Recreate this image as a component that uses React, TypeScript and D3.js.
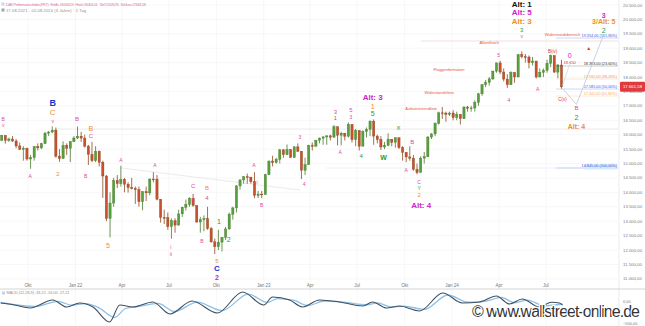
import React from 'react';
import * as d3 from 'd3';

// ---------- DATA ----------
// weekly DAX candles, week ending Friday, first week ending 2021-08-13
const firstWeekEnd = '2021-08-13';
const firstOpen = 15800;
const closes = [
  // 2021
  15977, 15808, 15852, 15781, 15610, 15491, 15532, 15156, 15207, 15587, 15543, 15688, 16054, 16094, 16160, 15257, 15170, 15623, 15531, 15756, 15885,
  // 2022
  15948, 15883, 15603, 15318, 15100, 15425, 15042, 14567, 13094, 13628, 14413, 14305, 14446, 14283, 14164, 14142, 14098,
  13674, 14028, 13982, 14462, 14460, 13762, 13126, 13118, 12813, 13015, 12864, 13254, 13484, 13574, 13795, 13544, 12971,
  13050, 13088, 12741, 12284, 12114, 12273, 12438, 12731, 13243, 13460, 14224, 14431, 14541, 14529, 14370, 13894, 13940, 13924,
  // 2023
  14610, 15087, 15033, 15150, 15476, 15307, 15482, 15210, 15578, 15428, 14768, 14957, 15629, 15598, 15808, 15882, 15922,
  15961, 15914, 16275, 15983, 16051, 15949, 16358, 15830, 16148, 15603, 16105, 16186, 16470, 15952, 15832, 15574, 15632,
  15840, 15740, 15893, 15557, 15387, 15229, 15187, 14798, 14688, 15189, 15234, 15919, 16029, 16398, 16759, 16751, 16706, 16752,
  // 2024
  16594, 16705, 16555, 16961, 16918, 16927, 17117, 17419, 17735, 17815, 17937, 18206, 18492, 18175, 17930, 17737, 18161,
  18001, 18773, 18704, 18694, 18498, 18557, 18002, 18164, 18235, 18475, 18748, 18172, 18418, 17661,
];
const highs = [
  15980, 15950, 15900, 15950, 15850, 15730, 15600, 15550, 15300, 15600, 15700, 15720, 16100, 16130, 16290, 16250, 15500, 15770, 15700, 15780, 15950,
  16285, 16100, 16000, 15650, 15750, 15600, 15450, 15100, 14600, 14000, 14500, 14600, 14925, 14500, 14350, 14500, 14200,
  14200, 14030, 14200, 14480, 14700, 14600, 13700, 13400, 13300, 13100, 13100, 13400, 13500, 13750, 13830, 13950, 13450,
  13150, 13200, 13500, 12800, 12400, 12700, 12450, 12800, 13300, 13500, 14250, 14450, 14560, 14650, 14500, 14700, 14050, 14050,
  14650, 15100, 15270, 15200, 15500, 15500, 15660, 15500, 15600, 15700, 15400, 15200, 15650, 15730, 15820, 15900, 15950,
  15970, 16000, 16330, 16250, 16100, 16050, 16430, 16300, 16200, 16100, 16150, 16250, 16500, 16530, 16000, 15950, 15750,
  16050, 15850, 15900, 15900, 15600, 15400, 15600, 15300, 15000, 15250, 15400, 15950, 16050, 16430, 16800, 16960, 16800, 16800,
  16850, 16800, 16650, 16980, 17000, 17000, 17200, 17450, 17750, 17900, 18000, 18220, 18500, 18567, 18300, 18100, 18200,
  18150, 18800, 18892, 18800, 18750, 18700, 18500, 18300, 18300, 18600, 18780, 18700, 18450, 18600,
];
const lows = [
  15800, 15690, 15750, 15750, 15530, 15480, 15100, 15100, 14819, 15100, 15450, 15500, 15700, 15950, 16050, 15200, 15060, 15200, 15300, 15050, 15750,
  15850, 15750, 15550, 14950, 15050, 15050, 14900, 13807, 13000, 12439, 13500, 14150, 14200, 14000, 13990, 14100, 13600,
  13500, 13380, 13700, 13900, 14350, 13720, 12950, 12900, 12700, 12390, 12600, 12850, 13150, 13370, 13500, 13500, 12950,
  12600, 12650, 12700, 12250, 11862, 12000, 11950, 12350, 12700, 13050, 13300, 14100, 14300, 14300, 14300, 13800, 13800, 13800,
  14050, 14600, 14900, 15000, 15000, 15200, 15300, 15200, 15200, 15400, 14460, 14600, 15000, 15450, 15600, 15700, 15650,
  15650, 15800, 15900, 15630, 15630, 15800, 15900, 15730, 15600, 15450, 15600, 15900, 15950, 15650, 15700, 15470, 15500,
  15600, 15600, 15550, 15500, 15100, 15050, 15100, 14750, 14630, 14700, 15000, 15250, 15850, 15950, 16350, 16550, 16450, 16650,
  16500, 16500, 16350, 16550, 16800, 16800, 16800, 17000, 17350, 17650, 17700, 17900, 18150, 18100, 17850, 17626, 17800,
  17800, 18050, 18650, 18500, 18300, 18400, 17950, 18000, 18000, 18150, 18350, 18150, 17960, 17600,
];

const priceTicks = d3.range(11000, 20501, 500);
const lastPrice = 17661.58;

// MACD indicator
const macdDates = ['2021-08-09', '2021-09-05', '2021-10-05', '2021-11-18', '2021-12-15', '2022-01-09', '2022-02-04', '2022-03-08',
  '2022-03-28', '2022-04-22', '2022-05-31', '2022-07-03', '2022-08-15', '2022-10-03', '2022-11-21', '2023-01-01', '2023-01-18',
  '2023-02-20', '2023-03-17', '2023-04-19', '2023-05-28', '2023-07-12', '2023-07-31', '2023-08-27', '2023-09-21', '2023-10-30',
  '2023-12-14', '2024-01-21', '2024-02-23', '2024-03-27', '2024-04-21', '2024-05-16', '2024-06-18', '2024-07-12', '2024-07-27', '2024-08-02'];
const macdValues = [33, -33, -133, 133, -100, 33, -100, -600, -33, -100, 67, -333, 100, -300, 400, -33, 233,
  133, -100, 133, 67, -67, 67, -133, -67, -233, 367, 33, 67, 267, 0, 167, -100, 60, 33, -33];
const signalDates = ['2021-08-09', '2021-10-15', '2021-11-28', '2021-12-25', '2022-01-20', '2022-02-15', '2022-03-18', '2022-04-08',
  '2022-05-05', '2022-06-10', '2022-07-12', '2022-08-25', '2022-10-12', '2022-12-02', '2023-01-08', '2023-01-28', '2023-03-01',
  '2023-03-27', '2023-04-29', '2023-06-05', '2023-07-20', '2023-08-09', '2023-09-05', '2023-09-30', '2023-11-08', '2023-12-24',
  '2024-02-01', '2024-03-05', '2024-04-06', '2024-05-01', '2024-05-26', '2024-06-27', '2024-08-02'];
const signalValues = [50, -80, 90, -40, 10, -120, -450, -150, -80, 20, -250, 60, -220, 330, 50, 180, 120,
  -50, 100, 60, -30, 40, -100, -70, -180, 300, 60, 90, 220, 40, 130, -60, 0];

// Elliott wave labels
const PINK = '#e2489c', ORANGE = '#f0901e', GREEN = '#2c9a2c', BLUE = '#1b2fcf', MAGENTA = '#cc1ecc', BLACK = '#111111', RED = '#e0342a';
type Lbl = { date: string; price: number; text: string; color: string; size: number; bold?: boolean };
const waveLabels: Lbl[] = [
  { date: '2021-08-14', price: 16544, text: 'B', color: PINK, size: 5 },
  { date: '2021-08-14', price: 16336, text: 'v', color: PINK, size: 5 },
  { date: '2021-11-18', price: 17100, text: 'B', color: BLUE, size: 9, bold: true },
  { date: '2021-11-18', price: 16787, text: 'C', color: ORANGE, size: 8 },
  { date: '2021-11-18', price: 16475, text: 'v', color: PINK, size: 5 },
  { date: '2022-01-04', price: 16544, text: 'B', color: PINK, size: 6 },
  { date: '2022-01-31', price: 16232, text: 'B', color: ORANGE, size: 7 },
  { date: '2022-01-31', price: 15954, text: 'C', color: PINK, size: 6 },
  { date: '2021-10-05', price: 14567, text: 'A', color: PINK, size: 5 },
  { date: '2021-11-28', price: 14637, text: '2', color: ORANGE, size: 6 },
  { date: '2022-01-21', price: 14567, text: 'B', color: PINK, size: 5 },
  { date: '2022-03-05', price: 12173, text: '5', color: ORANGE, size: 7 },
  { date: '2022-03-30', price: 15122, text: 'A', color: PINK, size: 5 },
  { date: '2022-06-04', price: 14949, text: 'A', color: PINK, size: 5 },
  { date: '2022-07-05', price: 12104, text: 'i', color: PINK, size: 5 },
  { date: '2022-07-05', price: 11861, text: 'ii', color: PINK, size: 5 },
  { date: '2022-08-17', price: 14220, text: 'C', color: PINK, size: 6 },
  { date: '2022-08-17', price: 13735, text: 'B', color: PINK, size: 5 },
  { date: '2022-09-13', price: 14151, text: 'B', color: ORANGE, size: 6 },
  { date: '2022-09-13', price: 13804, text: '4', color: PINK, size: 6 },
  { date: '2022-09-03', price: 12312, text: 'B', color: PINK, size: 5 },
  { date: '2022-10-06', price: 13006, text: '1', color: GREEN, size: 7 },
  { date: '2022-10-25', price: 12347, text: '2', color: GREEN, size: 7 },
  { date: '2022-10-02', price: 11630, text: '5', color: ORANGE, size: 6 },
  { date: '2022-10-02', price: 11360, text: 'C', color: BLUE, size: 8, bold: true },
  { date: '2022-10-02', price: 11060, text: '2', color: MAGENTA, size: 7, bold: true },
  { date: '2022-12-13', price: 14949, text: 'A', color: PINK, size: 5 },
  { date: '2022-12-19', price: 14359, text: 'i', color: PINK, size: 5 },
  { date: '2022-12-28', price: 13561, text: 'B', color: PINK, size: 5 },
  { date: '2023-03-12', price: 15920, text: '3', color: PINK, size: 5 },
  { date: '2023-03-20', price: 14290, text: '4', color: PINK, size: 5 },
  { date: '2023-05-20', price: 16787, text: '3', color: PINK, size: 6 },
  { date: '2023-05-20', price: 16580, text: '1', color: RED, size: 5 },
  { date: '2023-05-29', price: 15400, text: 'A', color: PINK, size: 5 },
  { date: '2023-06-19', price: 16850, text: '5', color: PINK, size: 6 },
  { date: '2023-06-19', price: 16614, text: '3', color: PINK, size: 5 },
  { date: '2023-07-09', price: 15261, text: '4', color: GREEN, size: 6 },
  { date: '2023-07-31', price: 17308, text: 'Alt: 3', color: MAGENTA, size: 8, bold: true },
  { date: '2023-07-31', price: 16995, text: '1', color: ORANGE, size: 7 },
  { date: '2023-07-31', price: 16753, text: '5', color: GREEN, size: 7 },
  { date: '2023-08-21', price: 15192, text: 'W', color: GREEN, size: 7, bold: true },
  { date: '2023-09-19', price: 16232, text: 'X', color: GREEN, size: 6 },
  { date: '2023-10-16', price: 15747, text: 'B', color: PINK, size: 6 },
  { date: '2023-10-04', price: 14775, text: 'A', color: PINK, size: 5 },
  { date: '2023-10-29', price: 14359, text: 'C', color: PINK, size: 5 },
  { date: '2023-10-29', price: 14151, text: 'Y', color: GREEN, size: 5 },
  { date: '2023-10-29', price: 13908, text: '2', color: ORANGE, size: 6 },
  { date: '2023-11-02', price: 13561, text: 'Alt: 4', color: MAGENTA, size: 8, bold: true },
  { date: '2024-05-15', price: 20534, text: 'Alt: 1', color: BLACK, size: 8, bold: true },
  { date: '2024-05-15', price: 20256, text: 'Alt: 5', color: MAGENTA, size: 8, bold: true },
  { date: '2024-05-15', price: 19944, text: 'Alt: 3', color: ORANGE, size: 8, bold: true },
  { date: '2024-05-15', price: 19632, text: '3', color: GREEN, size: 6 },
  { date: '2024-05-15', price: 19424, text: 'v', color: PINK, size: 5 },
  { date: '2024-03-31', price: 18765, text: '5', color: PINK, size: 5 },
  { date: '2024-04-20', price: 17204, text: '4', color: PINK, size: 5 },
  { date: '2024-06-15', price: 17585, text: 'A', color: PINK, size: 5 },
  { date: '2024-07-14', price: 18903, text: 'B(iv)', color: RED, size: 4.5 },
  { date: '2024-08-02', price: 17238, text: 'C(v)', color: RED, size: 4.5 },
  { date: '2024-08-16', price: 18765, text: '0', color: MAGENTA, size: 7 },
  { date: '2024-08-16', price: 18522, text: '18.650', color: RED, size: 4 },
  { date: '2024-08-29', price: 16926, text: 'B', color: PINK, size: 6 },
  { date: '2024-08-29', price: 16614, text: '2', color: GREEN, size: 7 },
  { date: '2024-08-29', price: 16302, text: 'Alt: 4', color: ORANGE, size: 7, bold: true },
  { date: '2024-10-21', price: 20152, text: '3', color: MAGENTA, size: 7, bold: true },
  { date: '2024-10-21', price: 19944, text: '3/Alt: 5', color: ORANGE, size: 7, bold: true },
  { date: '2024-10-21', price: 19632, text: '2', color: GREEN, size: 7 },
  { date: '2024-09-22', price: 19007, text: '▲', color: RED, size: 5 },
];

const noteDates = ['2024-08-02', '2024-03-13', '2023-12-26', '2023-12-07', '2023-11-02'];
const notePrices = [19493, 19215, 18279, 17481, 16926];
const noteTexts = ['Widerstandsbereich', 'Allzeithoch', 'Flaggenformation', 'Widerstandslinie', 'Aufwärtstrendlinie'];

const fibPrices = [19354, 18383, 17932, 17585, 17342, 14845];
const fibPercents = ['161,80%', '23,60%', '38,20%', '50,00%', '61,80%', '100,00%'];
const fibColors = ['#3a5be0', '#333333', '#f0a040', '#3a5be0', '#f5b060', '#3a5be0'];

const projDates = ['2024-08-02', '2024-08-29', '2024-10-21'];
const projPrices = [17600, 17050, 19480];

// ---------- CHART ----------
export default function App() {
  const parse = d3.timeParse('%Y-%m-%d');
  const P = (s: string) => parse(s) as Date;
  const x = d3.scaleTime().domain([P('2021-10-01'), P('2024-07-01')]).range([28, 546]);
  const y = d3.scaleLinear().domain([12000, 20500]).range([250, 5]);
  const my = d3.scaleLinear().domain([-500, 0]).range([319, 304]);
  const de = d3.formatLocale({ decimal: ',', thousands: '.', grouping: [3], currency: ['', '€'] });
  const fmt = de.format(',.2f');

  const plotRight = 618;
  const panelTop = 289;
  const start = P(firstWeekEnd);
  const candles = closes.map((c, i) => {
    const d = d3.timeDay.offset(start, 7 * i - 2);
    const o = i === 0 ? firstOpen : closes[i - 1];
    return { d, o, c, h: Math.max(highs[i], o, c), l: Math.min(lows[i], o, c) };
  });
  const step = x(d3.timeDay.offset(start, 7)) - x(start);
  const bw = step * 0.62;

  const ticks = x.ticks(d3.timeMonth.every(3) as any).filter((t) => t >= P('2021-10-01'));
  const tickFmt = (t: Date) => {
    const m = t.getMonth();
    const names = ['Jan', 'Feb', 'Mär', 'Apr', 'Mai', 'Jun', 'Jul', 'Aug', 'Sep', 'Okt', 'Nov', 'Dez'];
    return m === 0 ? `Jan ${String(t.getFullYear()).slice(2)}` : names[m];
  };

  const macdLine = d3.line<[Date, number]>().x((d) => x(d[0])).y((d) => my(d[1])).curve(d3.curveMonotoneX);
  const macdPts = macdDates.map((d, i) => [P(d), macdValues[i]] as [Date, number]);
  const sigPts = signalDates.map((d, i) => [P(d), signalValues[i]] as [Date, number]);

  const projLine = d3.line<[Date, number]>().x((d) => x(d[0])).y((d) => y(d[1]));
  const projPts = projDates.map((d, i) => [P(d), projPrices[i]] as [Date, number]);

  const font = 'Liberation Sans, Arial, Helvetica, sans-serif';

  return (
    <svg width={645} height={326} style={{ position: 'absolute', left: 0, top: 0, background: '#fff' }} fontFamily={font}>
      <defs>
        <clipPath id="plot"><rect x={0} y={0} width={plotRight} height={panelTop} /></clipPath>
        <clipPath id="ind"><rect x={0} y={panelTop} width={plotRight} height={326 - panelTop} /></clipPath>
      </defs>
      <rect x={0} y={0} width={645} height={326} fill="#fff" />

      {/* grid */}
      {priceTicks.map((p) => (
        <line key={'g' + p} x1={0} x2={plotRight} y1={y(p)} y2={y(p)} stroke="#f4f4f4" strokeWidth={0.6} />
      ))}
      {ticks.map((t, i) => (
        <line key={'v' + i} x1={x(t)} x2={x(t)} y1={0} y2={326} stroke="#f1f1f1" strokeWidth={0.6} />
      ))}

      {/* header */}
      <rect x={1.5} y={2.5} width={3} height={3} fill="#c8d8f0" />
      <text x={6} y={5.6} fontSize={4} fill="#e07aa8" textLength={140}>DAX Performance-Index (PKT) · Eröffn. 18.343,13 · Hoch 18.401,01 · Tief 17.626,76 · Schluss 17.661,58</text>
      <rect x={1.5} y={8.5} width={3} height={3} fill="#9aa5b5" />
      <text x={6} y={11.6} fontSize={4} fill="#8a8a8a" textLength={80}>17.08.2021 - 02.08.2024 (3 Jahre) · 1 Tag</text>

      <g clipPath="url(#plot)">
        {/* long lines */}
        <line x1={x(P('2021-11-25'))} x2={plotRight} y1={y(16197)} y2={y(16197)} stroke="#e4e4e4" strokeWidth={0.8} />
        <line x1={x(P('2023-11-01'))} x2={plotRight} y1={y(19250)} y2={y(19250)} stroke="#ead6de" strokeWidth={0.8} />
        <line x1={x(P('2023-05-01'))} x2={plotRight} y1={y(14845)} y2={y(14845)} stroke="#e8eef8" strokeWidth={0.8} />
        <line x1={x(P('2022-03-29'))} x2={x(P('2023-03-12'))} y1={y(14850)} y2={y(14080)} stroke="#e6e6e6" strokeWidth={0.8} />

        {/* candles */}
        {candles.map((k, i) => {
          const up = k.c >= k.o;
          const cx = x(k.d);
          const top = y(Math.max(k.o, k.c));
          const bot = y(Math.min(k.o, k.c));
          return (
            <g key={i}>
              <line x1={cx} x2={cx} y1={y(k.h)} y2={y(k.l)} stroke={up ? '#4a7a2c' : '#8d4a22'} strokeWidth={0.8} />
              <rect x={cx - bw / 2} y={top} width={bw} height={Math.max(0.8, bot - top)} fill={up ? '#56a03e' : '#c9502c'} stroke={up ? '#4a7a2c' : '#8d4a22'} strokeWidth={0.4} />
            </g>
          );
        })}

        {/* fib levels on the right */}
        {fibPrices.map((p, i) => (
          <g key={'f' + i}>
            <line x1={x(P('2024-07-20'))} x2={plotRight} y1={y(p)} y2={y(p)} stroke={fibColors[i]} strokeOpacity={0.35} strokeWidth={0.7} />
            {i === 5 && <rect x={584} y={y(p) - 3.5} width={33} height={5} fill="#d6e8fb" />}
            <text x={617} y={y(p) - 1} fontSize={3.8} textAnchor="end" fill={fibColors[i]}>
              {`${fmt(p)} (${fibPercents[i]})`}
            </text>
          </g>
        ))}

        {/* projection */}
        <path d={projLine(projPts) || ''} fill="none" stroke="#b9c9dc" strokeWidth={0.8} />
        <line x1={x(P('2024-08-16'))} x2={x(P('2024-08-02'))} y1={y(18450)} y2={y(17700)} stroke="#c9d6e6" strokeWidth={0.7} />

        {/* notes */}
        {noteTexts.map((t, i) => (
          <text key={'n' + i} x={x(P(noteDates[i]))} y={y(notePrices[i])} fontSize={4} fill="#e8553a" textAnchor="middle" dominantBaseline="central">{t}</text>
        ))}

        {/* wave labels */}
        {waveLabels.map((l, i) => (
          <text key={'w' + i} x={x(P(l.date))} y={y(l.price)} fontSize={l.size} fontWeight={l.bold ? 'bold' : 'normal'} fill={l.color} textAnchor="middle" dominantBaseline="central">{l.text}</text>
        ))}
      </g>

      {/* right axis */}
      <line x1={plotRight + 1} x2={plotRight + 1} y1={0} y2={326} stroke="#e6e6e6" strokeWidth={0.8} />
      {priceTicks.map((p) => (
        <text key={'t' + p} x={623} y={y(p)} fontSize={4.3} fill="#7a7a7a" dominantBaseline="central">{fmt(p)}</text>
      ))}
      <rect x={620} y={y(lastPrice) - 5} width={25} height={10} fill="#e03a3a" rx={1} />
      <text x={632.5} y={y(lastPrice)} fontSize={4.3} fill="#fff" textAnchor="middle" dominantBaseline="central">{fmt(lastPrice)}</text>

      {/* x-axis */}
      {ticks.map((t, i) => (
        <text key={'xl' + i} x={x(t)} y={285} fontSize={4.5} fill="#777" textAnchor="middle" dominantBaseline="central">{tickFmt(t)}</text>
      ))}

      {/* indicator panel */}
      <line x1={0} x2={645} y1={panelTop} y2={panelTop} stroke="#d4d4d4" strokeWidth={1} />
      <rect x={2} y={291.5} width={3} height={3} fill="#bcd6ee" />
      <text x={6.5} y={294.3} fontSize={3.8} fill="#8a8a8a">MACD (12,26,9)  -33,21  -16,00  -17,21</text>
      <g clipPath="url(#ind)">
        <path d={macdLine(sigPts) || ''} fill="none" stroke="#8cc0e8" strokeWidth={1.3} />
        <path d={macdLine(macdPts) || ''} fill="none" stroke="#405060" strokeWidth={1.1} />
      </g>
      <text x={623} y={my(0) - 3} fontSize={4} fill="#7a7a7a" dominantBaseline="central">{fmt(0)}</text>
      <text x={623} y={323} fontSize={4} fill="#7a7a7a" dominantBaseline="central">{fmt(-500)}</text>

      {/* watermark */}
      <text x={640} y={317} fontSize={16} fill="#333" textAnchor="end" textLength={168} stroke="#fff" strokeWidth={2.5} style={{ paintOrder: 'stroke' } as any}>© www.wallstreet-online.de</text>
    </svg>
  );
}
